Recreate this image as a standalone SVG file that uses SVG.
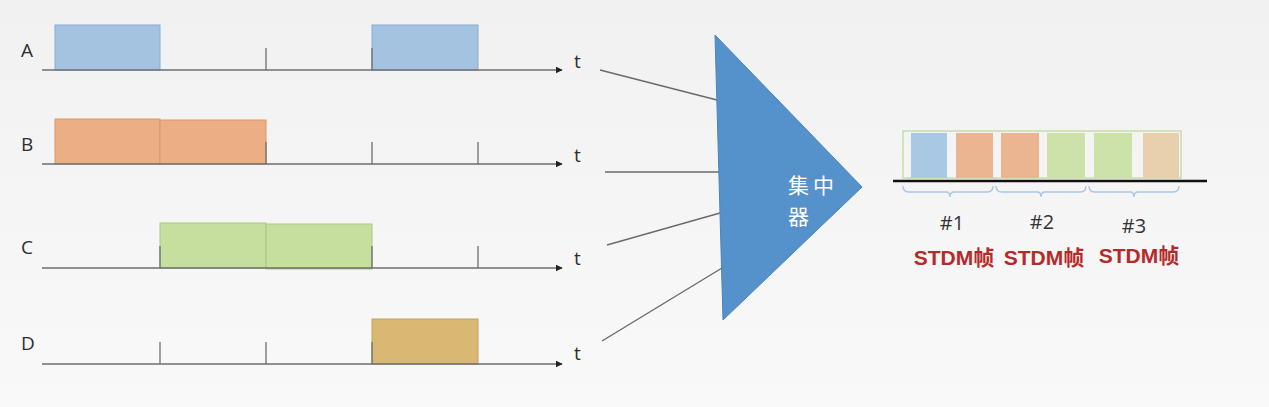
<svg xmlns="http://www.w3.org/2000/svg" width="1269" height="407" viewBox="0 0 1269 407">
<defs>
<linearGradient id="bg" x1="0" y1="0" x2="0" y2="1">
<stop offset="0" stop-color="#f1f1f1"/>
<stop offset="1" stop-color="#f9f9f9"/>
</linearGradient>
<marker id="arr" viewBox="0 0 10 10" refX="9" refY="5" markerWidth="7" markerHeight="7" markerUnits="userSpaceOnUse" orient="auto">
<path d="M0,0 L10,5 L0,10 z" fill="#222"/>
</marker>
<style>
.axis{stroke:#6e6e6e;stroke-width:1.6;fill:none}
.tick{stroke:#6e6e6e;stroke-width:1.3}
.lbl{font-family:"Open Sans","Liberation Sans",sans-serif;font-size:19px;fill:#2e2e2e}
.a{fill:#a3c3e1;stroke:#88acd3;stroke-width:1}
.b{fill:#ecae85;stroke:#d99868;stroke-width:1}
.c{fill:#c6de9e;stroke:#a9c97c;stroke-width:1}
.d{fill:#d8b872;stroke:#c4a25c;stroke-width:1}
.conn{stroke:#6a6a6a;stroke-width:1.4;fill:none}
.brace{stroke:#a9c6e3;stroke-width:1.4;fill:none}
.num{font-family:"Open Sans","Liberation Sans",sans-serif;font-size:20px;fill:#333;text-anchor:middle}
.frm{font-family:"Liberation Sans","Noto Sans CJK SC",sans-serif;font-size:21px;font-weight:bold;fill:#b52a2a;text-anchor:middle}
.hub{font-family:"Noto Sans CJK SC",sans-serif;font-size:21px;fill:#ffffff;letter-spacing:4px}
</style>
</defs>
<rect width="1269" height="407" fill="url(#bg)"/>

<g id="rowA">
<text class="lbl" x="21" y="57">A</text>
<rect class="a" x="55" y="25" width="105" height="45"/>
<rect class="a" x="372" y="25" width="106" height="45"/>
<line class="tick" x1="266" y1="48" x2="266" y2="70"/>
<line class="tick" x1="372" y1="48" x2="372" y2="70"/>
<line class="axis" x1="42" y1="70" x2="562" y2="70" marker-end="url(#arr)"/>
<text class="lbl" x="574" y="68">t</text>
</g>

<g id="rowB">
<text class="lbl" x="21" y="151">B</text>
<rect class="b" x="55" y="119" width="105" height="45"/>
<rect class="b" x="160" y="120" width="106" height="44"/>
<line class="tick" x1="266" y1="142" x2="266" y2="164"/>
<line class="tick" x1="372" y1="142" x2="372" y2="164"/>
<line class="tick" x1="478" y1="142" x2="478" y2="164"/>
<line class="axis" x1="42" y1="164" x2="562" y2="164" marker-end="url(#arr)"/>
<text class="lbl" x="574" y="162">t</text>
</g>

<g id="rowC">
<text class="lbl" x="21" y="254">C</text>
<rect class="c" x="160" y="223" width="106" height="45"/>
<rect class="c" x="266" y="224" width="106" height="45"/>
<line class="tick" x1="160" y1="246" x2="160" y2="268"/>
<line class="tick" x1="372" y1="246" x2="372" y2="268"/>
<line class="tick" x1="478" y1="246" x2="478" y2="268"/>
<line class="axis" x1="42" y1="268" x2="562" y2="268" marker-end="url(#arr)"/>
<text class="lbl" x="574" y="265">t</text>
</g>

<g id="rowD">
<text class="lbl" x="21" y="350">D</text>
<rect class="d" x="372" y="319" width="106" height="45"/>
<line class="tick" x1="160" y1="342" x2="160" y2="364"/>
<line class="tick" x1="266" y1="342" x2="266" y2="364"/>
<line class="tick" x1="372" y1="342" x2="372" y2="364"/>
<line class="axis" x1="42" y1="364" x2="562" y2="364" marker-end="url(#arr)"/>
<text class="lbl" x="574" y="360">t</text>
</g>

<g id="connectors">
<line class="conn" x1="600" y1="70" x2="717" y2="100"/>
<line class="conn" x1="605" y1="172" x2="719" y2="172"/>
<line class="conn" x1="607" y1="245" x2="720" y2="213"/>
<line class="conn" x1="602" y1="341" x2="722" y2="268"/>
</g>

<g id="concentrator">
<polygon points="715,35 862,187 723,320" fill="#5592cb" stroke="#4a84bd" stroke-width="1"/>
<text class="hub" x="788" y="193">集中</text>
<text class="hub" x="788" y="224">器</text>
</g>

<g id="stdm">
<rect x="903" y="131" width="278" height="47" fill="none" stroke="#b9d69a" stroke-width="1.2"/>
<rect x="911" y="133" width="36" height="45" fill="#a9c8e3"/>
<rect x="956" y="133" width="37" height="45" fill="#ecb591"/>
<rect x="1001" y="133" width="38" height="45" fill="#ecb591"/>
<rect x="1047" y="133" width="38" height="45" fill="#cde2a8"/>
<rect x="1094" y="133" width="38" height="45" fill="#cde2a8"/>
<rect x="1143" y="133" width="36" height="45" fill="#e8cfae"/>
<line x1="893" y1="181" x2="1207" y2="181" stroke="#111" stroke-width="2.5"/>
<path class="brace" d="M903,186 Q903,192 909,192 L946,192 Q950,192 950,197 Q950,192 954,192 L987,192 Q993,192 993,186"/>
<path class="brace" d="M996,186 Q996,192 1002,192 L1037,192 Q1041,192 1041,197 Q1041,192 1045,192 L1080,192 Q1086,192 1086,186"/>
<path class="brace" d="M1089,186 Q1089,192 1095,192 L1130,192 Q1134,192 1134,197 Q1134,192 1138,192 L1173,192 Q1179,192 1179,186"/>
<text class="num" x="952" y="230">#1</text>
<text class="num" x="1042" y="229">#2</text>
<text class="num" x="1134" y="233">#3</text>
<text class="frm" x="954" y="265">STDM帧</text>
<text class="frm" x="1044" y="265">STDM帧</text>
<text class="frm" x="1139" y="263">STDM帧</text>
</g>
</svg>
